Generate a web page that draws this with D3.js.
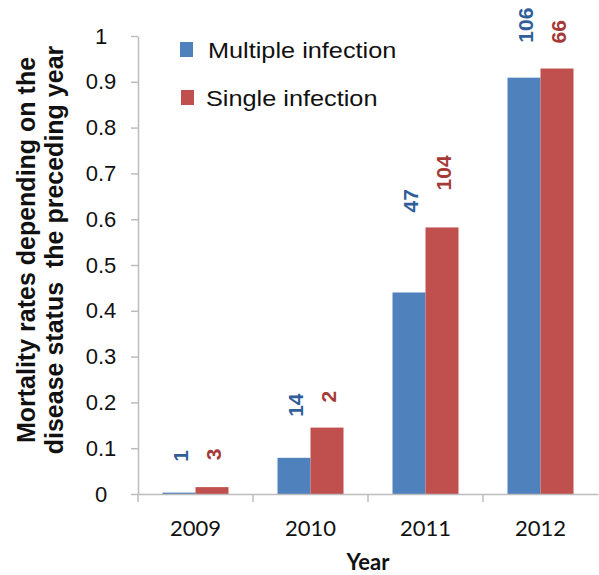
<!DOCTYPE html>
<html><head><meta charset="utf-8">
<script src="https://cdn.jsdelivr.net/npm/d3@7"></script>
<style>body{margin:0;background:#fff}svg{display:block}</style>
</head><body>
<script>
const years = ["2009", "2010", "2011", "2012"];
const seriesNames = ["Multiple infection", "Single infection"];
const multipleRates = [0.003, 0.079, 0.44, 0.909];
const singleRates = [0.015, 0.145, 0.582, 0.929];
const multipleCounts = ["1", "14", "47", "106"];
const singleCounts = ["3", "2", "104", "66"];
const yTicks = [0, 0.1, 0.2, 0.3, 0.4, 0.5, 0.6, 0.7, 0.8, 0.9, 1];

const W = 599, H = 575;
const m = {left: 138, right: 1, top: 36, bottom: 81};
const svg = d3.select("body").append("svg").attr("width", W).attr("height", H);
const colors = ["#4f81bd", "#c0504d"];
const labelColors = ["#2f5e9a", "#a33a37"];
const arial = "'Liberation Sans', Arial, sans-serif";
const cal = "Lato, 'Open Sans', sans-serif";

const x = d3.scaleBand().domain(years).range([m.left, W - m.right]);
const y = d3.scaleLinear().domain([0, 1]).range([H - m.bottom, m.top]);

const series = [multipleRates, singleRates];
const counts = [multipleCounts, singleCounts];
const bw = 33;
series.forEach((vals, si) => {
  svg.append("g").selectAll("rect").data(vals).join("rect")
    .attr("x", (d, i) => x(years[i]) + x.bandwidth() / 2 - bw + si * bw)
    .attr("y", d => y(d))
    .attr("width", bw)
    .attr("height", d => y(0) - y(d))
    .attr("fill", colors[si]);
});

const axisColor = "#bdbdbd";
const yAxis = svg.append("g").attr("transform", `translate(${m.left},0)`)
  .call(d3.axisLeft(y).tickValues(yTicks).tickSize(7).tickSizeOuter(0).tickFormat(d => String(+d.toFixed(1))));
yAxis.select(".domain").attr("stroke", axisColor).attr("stroke-width", 1.5);
yAxis.selectAll(".tick line").attr("stroke", axisColor).attr("stroke-width", 1.5);
yAxis.selectAll(".tick text").attr("x", -37).attr("text-anchor", "middle").attr("fill", "#111")
  .style("font-family", arial).style("font-size", "22px");

const xAxis = svg.append("g").attr("transform", `translate(0,${y(0)})`)
  .call(d3.axisBottom(x).tickSize(0).tickSizeOuter(0));
xAxis.select(".domain").attr("stroke", axisColor).attr("stroke-width", 1.5);
xAxis.selectAll(".tick text").attr("dy", 0).attr("y", 42).attr("fill", "#111")
  .style("font-family", cal).style("font-size", "22px");
svg.append("g").selectAll("line").data(years).join("line")
  .attr("x1", d => x(d)).attr("x2", d => x(d))
  .attr("y1", y(0)).attr("y2", y(0) + 8)
  .attr("stroke", axisColor).attr("stroke-width", 1.5);

// data labels (rotated)
const labelGap = {"0-0": 31, "0-1": 41, "0-2": 80, "0-3": 35, "1-0": 27, "1-1": 25, "1-2": 37, "1-3": 25};
series.forEach((vals, si) => {
  vals.forEach((v, i) => {
    const cx = x(years[i]) + x.bandwidth() / 2 - bw / 2 + si * bw + 1;
    const by = y(v) - labelGap[si + "-" + i];
    svg.append("text")
      .attr("transform", `translate(${cx},${by}) rotate(-90)`)
      .attr("dominant-baseline", "central")
      .attr("text-anchor", "start")
      .attr("fill", labelColors[si])
      .style("font-family", arial)
      .style("font-weight", "bold").style("font-size", "21px")
      .text(counts[si][i]);
  });
});

// legend
const legend = svg.append("g");
seriesNames.forEach((name, i) => {
  const ly = 50 + i * 48;
  legend.append("rect").attr("x", 180 + i).attr("y", ly - 8).attr("width", 13).attr("height", 15).attr("fill", colors[i]);
  legend.append("text").attr("transform", `translate(${208 - i * 2},${ly + 8}) scale(1.15,1)`)
    .attr("fill", "#111")
    .style("font-family", arial).style("font-size", "22px")
    .text(name);
});

svg.append("text").attr("x", (x.range()[0] + x.range()[1]) / 2).attr("y", 570)
  .attr("text-anchor", "middle").attr("fill", "#111")
  .style("font-family", cal).style("font-weight", "bold").style("font-size", "22px")
  .text("Year");

const yTitle = svg.append("text").attr("transform", "translate(35,250) rotate(-90)")
  .attr("text-anchor", "middle").attr("fill", "#111")
  .style("font-family", arial).style("font-weight", "bold").style("font-size", "25px");
yTitle.append("tspan").attr("x", 0).attr("y", 0).text("Mortality rates depending on the");
yTitle.append("tspan").attr("x", 0).attr("y", 28).text("disease status\u00a0 the preceding year");
</script>
</body></html>
